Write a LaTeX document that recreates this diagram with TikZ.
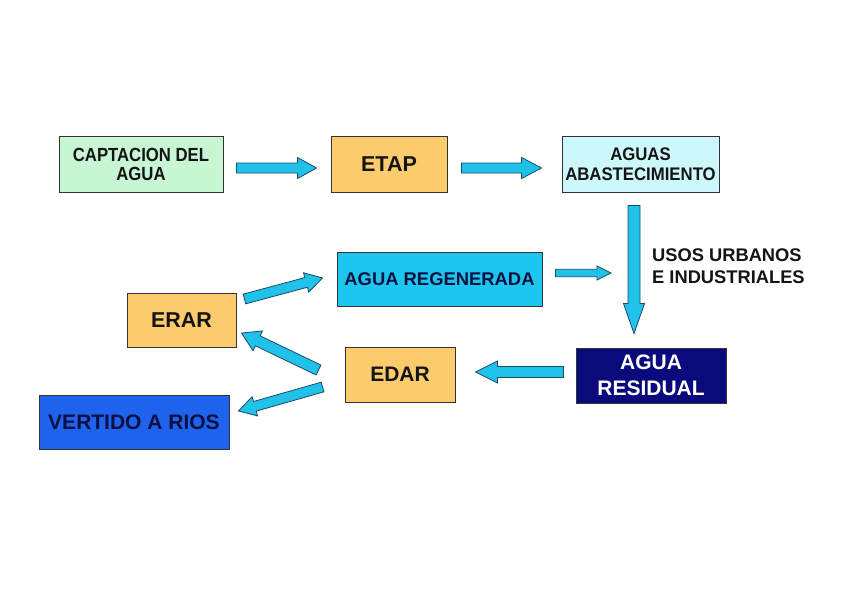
\documentclass[tikz,border=0pt]{standalone}
\usepackage{fontspec}
\setmainfont{Liberation Sans}
\usetikzlibrary{calc}
\definecolor{cgreen}{HTML}{C8F5D4}
\definecolor{corange}{HTML}{FCCB6E}
\definecolor{clcyan}{HTML}{CCF7FB}
\definecolor{ccyan}{HTML}{1CC6EE}
\definecolor{cblue}{HTML}{1E62EE}
\definecolor{cnavy}{HTML}{0A0A7C}
\definecolor{ctext}{HTML}{141414}
\definecolor{cnavytext}{HTML}{0C1040}
\definecolor{carrow}{HTML}{20C2EA}
\definecolor{carrowline}{HTML}{1E4A66}
\newfontfamily\condfont[FakeStretch=0.88]{Liberation Sans}
\newfontfamily\semicondfont[FakeStretch=0.92]{Liberation Sans}
\newcommand\fatarr[5]{%
  \path let \p1=($(#2)-(#1)$) in
    \pgfextra{\pgfmathsetmacro\fatang{atan2(\y1,\x1)}\pgfmathsetmacro\fatlen{veclen(\x1,\y1)}\xdef\fatang{\fatang}\xdef\fatlen{\fatlen}};
  \draw[fatstyle, shift={(#1)}, rotate=\fatang]
    (0pt,-#3pt) -- ({\fatlen pt-#5pt},-#3pt) -- ({\fatlen pt-#5pt},-#4pt) -- (\fatlen pt,0pt)
    -- ({\fatlen pt-#5pt},#4pt) -- ({\fatlen pt-#5pt},#3pt) -- (0pt,#3pt) -- cycle;
}
\begin{document}
\begin{tikzpicture}[x=1pt,y=-1pt,
  box/.style={draw=black!80, line width=0.9pt, rectangle, inner sep=0pt, align=center, font=\bfseries, text=ctext},
  fatstyle/.style={fill=carrow, draw=carrowline, line width=0.8pt, line join=miter}]
\useasboundingbox[fill=white] (0,0) rectangle (848,599);
\node[box, fill=cgreen, minimum width=164pt, minimum height=56pt, font=\condfont\bfseries\fontsize{19}{19}\selectfont] (capt) at (141,164) {CAPTACION DEL\\AGUA};
\node[box, fill=corange, minimum width=116pt, minimum height=56pt, font=\bfseries\fontsize{21.5}{24}\selectfont] (etap) at (389,164) {ETAP};
\node[box, fill=clcyan, minimum width=157pt, minimum height=56pt, font=\semicondfont\bfseries\fontsize{18.2}{20}\selectfont] (abast) at (640.5,164) {AGUAS\\ABASTECIMIENTO};
\node[box, fill=ccyan, minimum width=205pt, minimum height=54pt, text=cnavytext, font=\bfseries\fontsize{18.4}{20}\selectfont] (regen) at (439.5,279) {AGUA REGENERADA};
\node[box, fill=corange, minimum width=109pt, minimum height=54pt, font=\bfseries\fontsize{21.5}{24}\selectfont] (erar) at (181.5,320) {ERAR};
\node[box, fill=corange, minimum width=110pt, minimum height=55pt, font=\bfseries\fontsize{21}{24}\selectfont] (edar) at (400,374.5) {EDAR};
\node[box, fill=cblue, minimum width=190pt, minimum height=54pt, text=cnavytext, font=\bfseries\fontsize{21}{24}\selectfont] (vert) at (134,422) {VERTIDO A RIOS};
\node[box, fill=cnavy, minimum width=150pt, minimum height=55pt, text=white, font=\bfseries\fontsize{21}{26}\selectfont] (resid) at (651,375.5) {AGUA\\RESIDUAL};
\node[anchor=west, align=left, inner sep=0pt, text=ctext, font=\bfseries\fontsize{18.3}{22}\selectfont] (usos) at (652,266) {USOS URBANOS\\E INDUSTRIALES};
% connector end points
\coordinate (a1s) at ($(capt.east)+(13,4)$);
\coordinate (a1e) at ($(etap.west)+(-14,4)$);
\coordinate (a2s) at ($(etap.east)+(14,4)$);
\coordinate (a2e) at ($(abast.west)+(-20,4)$);
\coordinate (a3s) at ($(abast.south)+(-6.5,13)$);
\coordinate (a3e) at ($(resid.north)+(-17,-14)$);
\coordinate (a4s) at ($(regen.east)+(13,-6)$);
\coordinate (a4e) at (611,273);
\coordinate (a5s) at ($(erar.east)+(8,-21)$);
\coordinate (a5e) at ($(regen.west)+(-14,-1)$);
\coordinate (a6s) at ($(edar.west)+(-26,-4.5)$);
\coordinate (a6e) at ($(erar.east)+(5,13)$);
\coordinate (a7s) at ($(edar.west)+(-22,12.5)$);
\coordinate (a7e) at ($(vert.east)+(9,-11)$);
\coordinate (a8s) at ($(resid.west)+(-12,-3.5)$);
\coordinate (a8e) at ($(edar.east)+(20,-2.5)$);
\fatarr{a1s}{a1e}{5}{10.5}{19}
\fatarr{a2s}{a2e}{5}{10.5}{20}
\fatarr{a3s}{a3e}{6}{10.5}{30}
\fatarr{a4s}{a4e}{3.7}{7}{14}
\fatarr{a5s}{a5e}{5}{10}{17}
\fatarr{a6s}{a6e}{5.5}{11}{18}
\fatarr{a7s}{a7e}{5}{10}{17}
\fatarr{a8s}{a8e}{5.5}{11}{22}
\end{tikzpicture}
\end{document}
